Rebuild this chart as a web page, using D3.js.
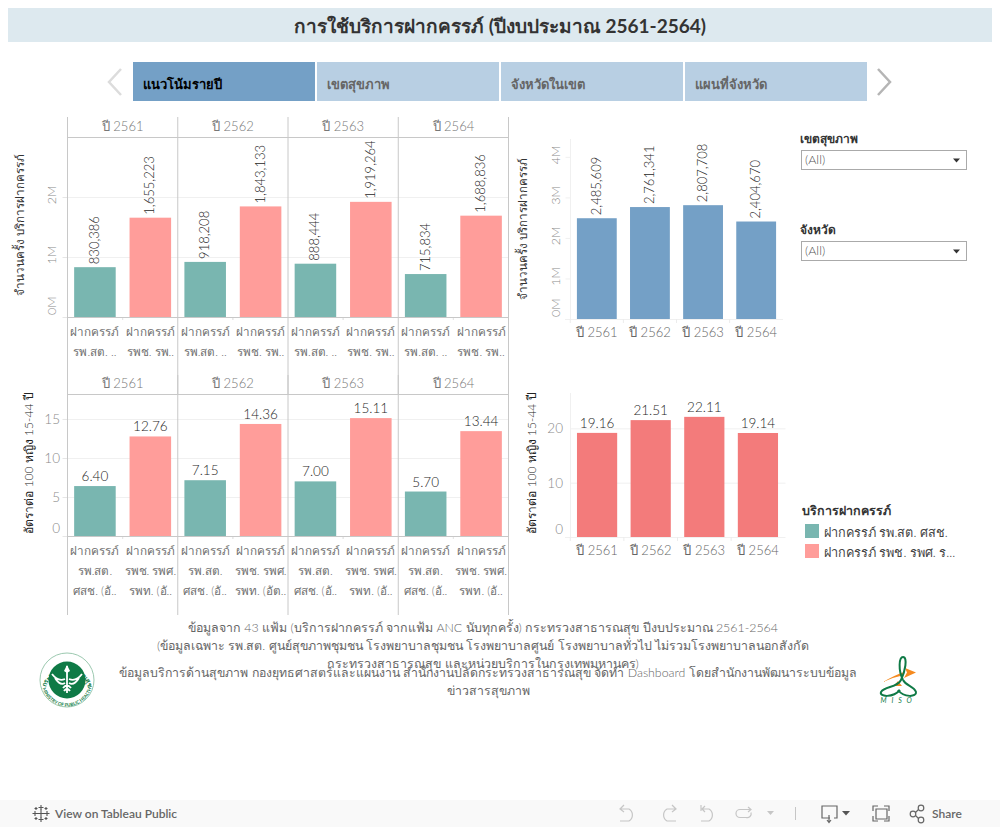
<!DOCTYPE html>
<html><head><meta charset="utf-8">
<script src="https://d3js.org/d3.v7.min.js"></script>
<style>
html,body{margin:0;padding:0;background:#fff;overflow:hidden}
svg{display:block}
text{font-family:"Lato","Noto Sans",sans-serif}
.domain{display:none}
</style></head><body>
<svg id="c" width="1000" height="827"></svg>
<script>
const titleText = "การใช้บริการฝากครรภ์ (ปีงบประมาณ 2561-2564)";
const tabs = ["แนวโน้มรายปี","เขตสุขภาพ","จังหวัดในเขต","แผนที่จังหวัด"];
const years = ["ปี 2561","ปี 2562","ปี 2563","ปี 2564"];
const serviceTypes = ["ฝากครรภ์ รพ.สต. ศสช.","ฝากครรภ์ รพช. รพศ. รพท."];
const legendLabels = ["ฝากครรภ์ รพ.สต. ศสช.","ฝากครรภ์ รพช. รพศ. ร..."];
const countPCU = [830386,918208,888444,715834];
const countHosp = [1655223,1843133,1919264,1688836];
const ratePCU = [6.40,7.15,7.00,5.70];
const rateHosp = [12.76,14.36,15.11,13.44];
const totalCounts = [2485609,2761341,2807708,2404670];
const totalRates = [19.16,21.51,22.11,19.14];
const countTicks = [0,1e6,2e6];
const totalCountTicks = [0,1e6,2e6,3e6,4e6];
const rateTicks = [0,5,10,15];
const totalRateTicks = [0,10,20];
const labelsTop = [["รพ.สต. ..","รพช. รพ.."],["รพ.สต. ..","รพช. รพ.."],["รพ.สต. ..","รพช. รพ.."],["รพ.สต. ..","รพช. รพ.."]];
const labelsBottom = [["ศสช. (อั..","รพท. (อั.."],["ศสช. (อั..","รพท. (อัต.."],["ศสช. (อั..","รพท. (อั.."],["ศสช. (อั..","รพท. (อั.."]];
const labelsMiddle = ["รพ.สต.","รพช. รพศ."];
const axisTitleCount = "จำนวนครั้ง บริการฝากครรภ์";
const axisTitleRate = "อัตราต่อ 100 หญิง 15-44 ปี";
const filters = ["เขตสุขภาพ","จังหวัด"];
const notesTop = ["ข้อมูลจาก 43 แฟ้ม (บริการฝากครรภ์ จากแฟ้ม ANC นับทุกครั้ง) กระทรวงสาธารณสุข ปีงบประมาณ 2561-2564",
"(ข้อมูลเฉพาะ รพ.สต. ศูนย์สุขภาพชุมชน โรงพยาบาลชุมชน โรงพยาบาลศูนย์ โรงพยาบาลทั่วไป ไม่รวมโรงพยาบาลนอกสังกัด",
"กระทรวงสาธารณสุข และหน่วยบริการในกรุงเทพมหานคร)"];
const notesBottom = ["ข้อมูลบริการด้านสุขภาพ กองยุทธศาสตร์และแผนงาน สำนักงานปลัดกระทรวงสาธารณสุข จัดทำ Dashboard โดยสำนักงานพัฒนาระบบข้อมูล","ข่าวสารสุขภาพ"];

const GREEN="#79b6b0", PINK="#ff9d9a", BLUE="#74a0c6", RED="#f37b7b";
const svg=d3.select("#c");
const LINE="#c8c8c8", GRID="#f0f0f0", TICK="#8a8a8a", AXT="#707070", LBL="#1e1e1e";

function T(g,x,y,s,o={}){
  const t=g.append("text").attr("x",x).attr("y",y).text(s)
    .attr("font-size",o.size||12).attr("fill",o.fill||AXT).attr("text-anchor",o.anchor||"middle")
    .attr("font-weight",o.weight||300);
  if(o.ls)t.attr("letter-spacing",o.ls);
  if(o.rot!==undefined)t.attr("transform",`rotate(${o.rot} ${x} ${y})`);
  return t;
}
// title
svg.append("rect").attr("x",8).attr("y",8).attr("width",984).attr("height",34).attr("fill","#dde9ef");
T(svg,500,33,titleText,{size:19,weight:700,fill:"#333"});
// tabs
const tabScale=d3.scaleBand().domain(tabs).range([133,867]).paddingInner(0.011);
tabs.forEach((t,i)=>{
  svg.append("rect").attr("x",tabScale(t)).attr("y",62).attr("width",tabScale.bandwidth()).attr("height",39)
    .attr("fill",i==0?BLUE:"#b8cfe3");
  T(svg,tabScale(t)+10,89,t,{size:13,weight:700,anchor:"start",fill:i==0?"#000":"#666"});
});
svg.append("path").attr("d","M121 69 L109 82 L121 95").attr("fill","none").attr("stroke","#dcdcdc").attr("stroke-width",2.5);
svg.append("path").attr("d","M878 69 L890 82 L878 95").attr("fill","none").attr("stroke","#b5b5b5").attr("stroke-width",2.5);

// faceted charts
function facet(cfg){
  const g=svg.append("g");
  const fx=d3.scaleBand().domain(years).range([67.5,508.5]);
  const inner=d3.scaleBand().domain([0,1]).range([0,fx.bandwidth()]).paddingInner(0.25).paddingOuter(0.12);
  const y=d3.scaleLinear().domain(cfg.domain).range([cfg.base,cfg.top]);
  const grid=d3.axisLeft(y).tickValues(cfg.ticks).tickSize(-441).tickFormat("");
  g.append("g").attr("transform","translate(67.5,0)").call(grid).call(a=>a.selectAll("line").attr("stroke",GRID));
  const ax=d3.axisLeft(y).tickValues(cfg.ticks).tickSize(5).tickFormat(cfg.fmt);
  g.append("g").attr("transform","translate(67.5,0)").call(ax).call(a=>{
    a.selectAll("line").attr("stroke","#e6e6e6");
    a.selectAll("text").remove();
  });
  cfg.ticks.forEach(v=>cfg.tickText(g,y,v));
  years.forEach((yr,i)=>{
    [cfg.a[i],cfg.b[i]].forEach((v,j)=>{
      const x=fx(yr)+inner(j);
      g.append("rect").attr("x",x).attr("y",y(v)).attr("width",inner.bandwidth()).attr("height",cfg.base-y(v)).attr("fill",j?PINK:GREEN);
      cfg.label(g,x+inner.bandwidth()/2,y(v),v);
      g.append("line").attr("x1",fx(yr)+fx.bandwidth()/2).attr("x2",fx(yr)+fx.bandwidth()/2).attr("y1",cfg.base).attr("y2",cfg.base+3).attr("stroke","#e6e6e6");
      cfg.xlabels.forEach((row,k)=>{
        T(g,x+inner.bandwidth()/2,cfg.xy+k*20,row(i,j),{size:11.7,fill:AXT});
      });
    });
    T(g,fx(yr)+fx.bandwidth()/2,cfg.head,yr,{size:13,fill:"#777"});
  });
  fx.domain().forEach(d=>{g.append("line").attr("x1",fx(d)).attr("x2",fx(d)).attr("y1",cfg.frame[0]).attr("y2",cfg.frame[1]).attr("stroke",LINE);});
  g.append("line").attr("x1",508.5).attr("x2",508.5).attr("y1",cfg.frame[0]).attr("y2",cfg.frame[1]).attr("stroke",LINE);
  [cfg.headLine,cfg.base+.5].forEach(v=>g.append("line").attr("x1",67.5).attr("x2",508.5).attr("y1",v).attr("y2",v).attr("stroke",LINE));
  cfg.title(g);
}
const numFmt=d3.format(",");
const mFmt=v=>(v/1e6)+"M";
const rotLabel=(g,x,y,v)=>T(g,x+4,y-3,numFmt(v),{size:13,rot:-90,anchor:"start",fill:LBL});
const flatLabel=(g,x,y,v)=>T(g,x,y-5,v.toFixed(2),{size:13.5,fill:LBL});

facet({a:countPCU,b:countHosp,domain:[0,3e6],base:317,top:137,ticks:countTicks,fmt:mFmt,
  head:131,headLine:137.5,frame:[117,394],xy:336,
  xlabels:[()=>"ฝากครรภ์",(i,j)=>labelsTop[i][j]],
  label:rotLabel,
  tickText:(g,y,v)=>T(g,56,y(v)-2,mFmt(v),{size:12.5,rot:-90,fill:TICK,anchor:v==0?"start":"middle"}),
  title:g=>T(g,24,225,axisTitleCount,{size:11.6,rot:-90,fill:"#333"})});
facet({a:ratePCU,b:rateHosp,domain:[0,18.2],base:536,top:394,ticks:rateTicks,fmt:d=>d,
  head:388,headLine:394.5,frame:[375,615],xy:555,
  xlabels:[()=>"ฝากครรภ์",(i,j)=>labelsMiddle[j],(i,j)=>labelsBottom[i][j]],
  label:flatLabel,
  tickText:(g,y,v)=>T(g,60,v==0?y(v)-3:y(v)+5,v,{size:13.5,fill:TICK,anchor:"end"}),
  title:g=>T(g,33,463,axisTitleRate,{size:12,rot:-90,fill:"#222"})});

// single-series charts
function single(cfg){
  const g=svg.append("g");
  const x=d3.scaleBand().domain(years).range(cfg.xr).paddingInner(0.25).paddingOuter(0.13);
  const y=d3.scaleLinear().domain(cfg.domain).range([cfg.base,cfg.top]);
  g.append("g").attr("transform",`translate(570.5,0)`).call(d3.axisLeft(y).tickValues(cfg.ticks).tickSize(cfg.tickSize).tickFormat(""))
    .call(a=>a.selectAll("line").attr("stroke",GRID));
  g.append("line").attr("x1",570.5).attr("x2",570.5).attr("y1",cfg.top).attr("y2",cfg.base).attr("stroke","#f0f0f0");
  g.append("line").attr("x1",565).attr("x2",cfg.xr[1]).attr("y1",cfg.base+.5).attr("y2",cfg.base+.5).attr("stroke","#f0f0f0");
  years.forEach((yr,i)=>{
    const v=cfg.vals[i];
    g.append("rect").attr("x",x(yr)).attr("y",y(v)).attr("width",x.bandwidth()).attr("height",cfg.base-y(v)).attr("fill",cfg.color);
    cfg.label(g,x(yr)+x.bandwidth()/2,y(v),v);
    T(g,x(yr)+x.bandwidth()/2,cfg.base+18,yr,{size:13,fill:"#666"});
    g.append("line").attr("x1",x(yr)-x.step()*.125).attr("x2",x(yr)-x.step()*.125).attr("y1",cfg.base).attr("y2",cfg.base+4).attr("stroke","#ececec");
  });
  cfg.ticks.forEach(v=>cfg.tickText(g,y,v));
  cfg.title(g);
}
single({vals:totalCounts,color:BLUE,domain:[0,4.44e6],base:319,top:139,xr:[570,783],ticks:totalCountTicks,tickSize:5,
  label:rotLabel,
  tickText:(g,y,v)=>T(g,560,y(v)-2,mFmt(v),{size:12.5,rot:-90,fill:TICK,anchor:v==0?"start":"middle"}),
  title:g=>T(g,527,229,axisTitleCount,{size:11.6,rot:-90,fill:"#333"})});
single({vals:totalRates,color:RED,domain:[0,26.5],base:537,top:393,xr:[570,785],ticks:totalRateTicks,tickSize:-215,
  label:flatLabel,
  tickText:(g,y,v)=>T(g,563,v==0?y(v)-3:y(v)+5,v,{size:13.5,fill:TICK,anchor:"end"}),
  title:g=>T(g,536,463,axisTitleRate,{size:12,rot:-90,fill:"#222"})});

// filters
filters.forEach((f,i)=>{
  const oy=i*91;
  T(svg,800,143+oy,f,{size:12,weight:700,anchor:"start",fill:"#333"});
  svg.append("rect").attr("x",801.5).attr("y",150.5+oy).attr("width",165).attr("height",19).attr("fill","#fff").attr("stroke","#aaa");
  T(svg,805,164+oy,"(All)",{size:12.5,anchor:"start",fill:"#555"});
  svg.append("path").attr("d",`M953 158.5 h7 l-3.5 4 z`).attr("transform",`translate(0,${oy})`).attr("fill","#333");
});
// legend
T(svg,802,515,"บริการฝากครรภ์",{size:12.5,weight:700,anchor:"start",fill:"#333"});
legendLabels.forEach((s,i)=>{
  svg.append("rect").attr("x",805).attr("y",524+i*20).attr("width",14).attr("height",14).attr("fill",i?PINK:GREEN);
  T(svg,824,537+i*20,s,{size:12.7,anchor:"start",fill:"#444"});
});
// notes
notesTop.forEach((s,i)=>T(svg,483,632+i*18,s,{size:12.4,fill:"#666"}));
notesBottom.forEach((s,i)=>T(svg,488,677+i*18,s,{size:12.3,fill:"#666"}));

// MOPH seal
const seal=svg.append("g").attr("transform","translate(67,680)");
const sealG="#0f7a46";
seal.append("circle").attr("r",27).attr("fill","#fff").attr("stroke","#9cc9b0").attr("stroke-width",1);
seal.append("circle").attr("r",18.5).attr("fill",sealG);
seal.append("path").attr("id","sealTop").attr("d","M-20.5 6 A21.5 21.5 0 0 1 20.5 6").attr("fill","none");
seal.append("path").attr("id","sealBot").attr("d","M-25 6 A25.5 25.5 0 0 0 25 6").attr("fill","none");
seal.append("text").attr("font-size",6.5).attr("fill",sealG).attr("font-weight",700).attr("text-anchor","middle")
  .append("textPath").attr("href","#sealTop").attr("startOffset","50%").text("กระทรวงสาธารณสุข");
seal.append("text").attr("font-size",4.6).attr("fill",sealG).attr("font-weight",700).attr("text-anchor","middle")
  .append("textPath").attr("href","#sealBot").attr("startOffset","50%").text("MINISTRY OF PUBLIC HEALTH");
seal.append("path").attr("d","M0 -14 V13 M-15 -6 Q-9 2 -2 -1 M15 -6 Q9 2 2 -1 M-12 -2 Q-7 6 -2 3 M12 -2 Q7 6 2 3 M-4 8 Q0 3 4 8 M-3 11 Q0 7 3 11").attr("fill","none").attr("stroke","#fff").attr("stroke-width",1.8);
seal.append("path").attr("d","M0 -15 L3 -9 L0 -7 L-3 -9 Z").attr("fill","#fff");
// MISO mark
const miso=svg.append("g");
miso.append("path").attr("d","M883 682 Q895 675 904 672 L904 675 Q894 677 883 682 Z").attr("fill","#f58a1f");
miso.append("path").attr("d","M905 668 L916 672.5 L904 678 L907 672.5 Z").attr("fill","#f58a1f");
miso.append("path").attr("d","M894 686 L898 681 L902 686 Z").attr("fill","#f58a1f");
miso.append("path").attr("d","M903 680 C898 670 899 657 903 657 C908 657 905 672 901 680 C897 688 885 686 881 692 C879 697 893 698 900 690").attr("fill","none").attr("stroke","#0f7a46").attr("stroke-width",2);
miso.append("path").attr("d","M903 680 C906 686 914 686 916 692 C917 697 904 698 898 690").attr("fill","none").attr("stroke","#0f7a46").attr("stroke-width",2);
T(miso,897,703,"M I S O",{size:7,fill:"#0f7a46",ls:1.6,weight:400}).attr("font-style","italic").attr("font-family","Liberation Serif");

// toolbar
const bar=svg.append("g");
bar.append("rect").attr("x",0).attr("y",800).attr("width",1000).attr("height",27).attr("fill","#f9f9f9");
const logo=bar.append("g").attr("transform","translate(41,813.5)").attr("stroke","#555").attr("stroke-width",1.1);
[[0,0,4],[0,-6,2.5],[0,6,2.5],[-6,0,2.5],[6,0,2.5],[-5,-5,1.5],[5,-5,1.5],[-5,5,1.5],[5,5,1.5]].forEach(d=>{
  logo.append("path").attr("d",`M${d[0]-d[2]} ${d[1]}H${d[0]+d[2]}M${d[0]} ${d[1]-d[2]}V${d[1]+d[2]}`);
});
T(bar,55,818,"View on Tableau Public",{size:12,anchor:"start",fill:"#666",weight:600}).attr("font-family","Liberation Sans");
const faint={fill:"none",stroke:"#c6c6c6","stroke-width":1.2};
const P=(d,o)=>{const p=bar.append("path").attr("d",d);Object.entries(o).forEach(([k,v])=>p.attr(k,v));return p;};
P("M624 808 l-4 4 l4 3 M620 812 h9 a7 7 0 0 1 0 12 h-9",faint).attr("transform","translate(0,-3)");
P("M672 808 l4 4 l-4 3 M676 812 h-9 a7 7 0 0 0 0 12 h9",faint).attr("transform","translate(0,-3)");
P("M701 806 v6 M705 807 l-3 3 l3 3 M702 810 h7 a7 7 0 0 1 0 12 h-8",faint).attr("transform","translate(0,-1)");
P("M748 807 l3 2.5 l-3 2.5 M751 809.5 h-11 a4 4 0 0 0 0 8 h6 a4 4 0 0 0 5 -5",faint);
P("M767 811 h7 l-3.5 4 z",{fill:"#c6c6c6"});
P("M795.5 807 v13",{stroke:"#c6c6c6",fill:"none"});
const dark={fill:"none",stroke:"#666","stroke-width":1.2};
P("M830 818 h-8 v-12 h15 v12 h-3 M829 815 v7 M827 820 l2 2.5 l2 -2.5",dark);
P("M842 811 h8 l-4 4.5 z",{fill:"#555"});
P("M873 811 v-5 h5 M884 806 h5 v5 M889 816 v5 h-5 M878 821 h-5 v-5",dark);
P("M876 809 h11 v10 h-11 z",dark);
[[913,814],[921,808],[921,820]].forEach(c=>bar.append("circle").attr("cx",c[0]).attr("cy",c[1]).attr("r",2.8).attr("fill","none").attr("stroke","#666").attr("stroke-width",1.2));
P("M915.5 812.5 L918.5 809.5 M915.5 815.5 L918.5 818.5",dark);
T(bar,932,818,"Share",{size:12,anchor:"start",fill:"#666",weight:600}).attr("font-family","Liberation Sans");
</script>
</body></html>
